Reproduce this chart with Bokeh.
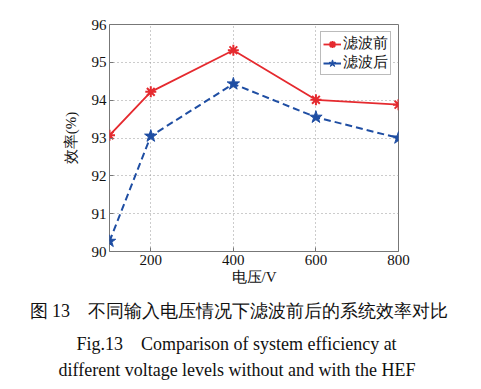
from bokeh.plotting import figure
from bokeh.models import Range1d, FixedTicker, Title
from bokeh.embed import file_html
from bokeh.resources import INLINE

voltage = [100, 200, 400, 600, 800]
eff_before = [93.07, 94.22, 95.32, 94.01, 93.88]
eff_after = [90.27, 93.05, 94.43, 93.55, 93.00]
x_ticks = [200, 400, 600, 800]
y_ticks = [90, 91, 92, 93, 94, 95, 96]
caption_lines = [
    "图 13　不同输入电压情况下滤波前后的系统效率对比",
    "Fig.13　Comparison of system efficiency at",
    "different voltage levels without and with the HEF",
]

RED = "#e52a2f"
BLUE = "#1f4ea3"
SERIF = "Liberation Serif"

p = figure(width=473, height=383, output_backend="svg", toolbar_location=None,
           x_range=Range1d(100, 800), y_range=Range1d(90, 96),
           min_border_left=109, min_border_right=75, min_border_top=24, min_border_bottom=4)

p.line(voltage, eff_before, color=RED, line_width=1.8, legend_label="滤波前")
p.scatter(voltage, eff_before, marker="asterisk", size=11, line_color=RED, line_width=2,
          legend_label="滤波前")
p.line(voltage, eff_after, color=BLUE, line_width=2, line_dash="7 4", legend_label="滤波后")
p.scatter(voltage, eff_after, marker="star", size=13, fill_color=BLUE, line_color=BLUE,
          legend_label="滤波后")

for ax in (p.xaxis, p.yaxis):
    ax.axis_line_color = None
    ax.major_tick_in = 4
    ax.major_tick_out = 0
    ax.minor_tick_line_color = None
    ax.major_tick_line_color = "#777777"
    ax.major_label_text_font = SERIF
    ax.major_label_text_font_size = "15px"
    ax.major_label_text_color = "#111111"
    ax.axis_label_text_font = SERIF
    ax.axis_label_text_font_size = "15px"
    ax.axis_label_text_font_style = "normal"
    ax.axis_label_text_color = "#111111"

p.xaxis.ticker = FixedTicker(ticks=x_ticks)
p.yaxis.ticker = FixedTicker(ticks=y_ticks)
p.xaxis.axis_label = "电压/V"
p.yaxis.axis_label = "效率(%)"
p.xaxis.major_label_standoff = 3
p.xaxis.axis_label_standoff = 1
p.yaxis.major_label_standoff = 3
p.yaxis.axis_label_standoff = 10

p.grid.grid_line_color = "#999999"
p.grid.grid_line_dash = "1 3"
p.grid.grid_line_width = 1
p.outline_line_color = "#777777"
p.outline_line_width = 1

p.legend.location = "top_right"
p.legend.margin = 7
p.legend.padding = 2
p.legend.spacing = 0
p.legend.label_text_font = SERIF
p.legend.label_text_font_size = "15px"
p.legend.label_text_color = "#111111"
p.legend.glyph_width = 18
p.legend.glyph_height = 18
p.legend.label_height = 18
p.legend.label_standoff = 2
p.legend.border_line_color = "#777777"
p.legend.background_fill_alpha = 1

offsets = [-80, -33, -51]
standoffs = [22, 0, 8]
for line, off, so in zip(caption_lines, offsets, standoffs):
    t = Title(text=line, align="left", offset=off, standoff=so,
              text_font=SERIF, text_font_size="18px", text_font_style="normal",
              text_color="#111111")
    p.add_layout(t, "below")

open("out.html", "w").write(file_html(p, INLINE))
